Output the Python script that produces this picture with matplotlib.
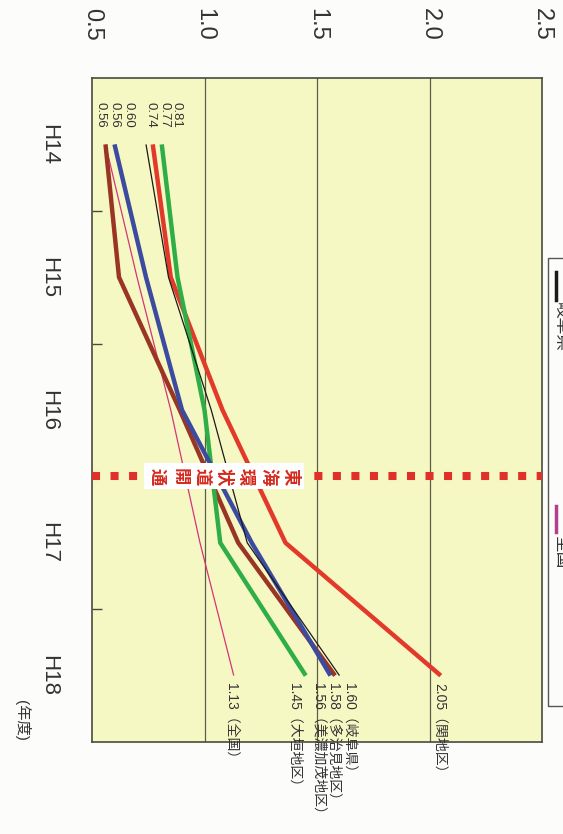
import matplotlib
matplotlib.use("Agg")
import matplotlib.pyplot as plt
from matplotlib.patches import Rectangle
from matplotlib.lines import Line2D

plt.rcParams['font.family'] = ['Liberation Sans', 'Noto Sans CJK JP', 'DejaVu Sans']

# ---- data ----
years = [14, 15, 16, 17, 18]
year_labels = ["H14", "H15", "H16", "H17", "H18"]
value_ticks = [0.5, 1.0, 1.5, 2.0, 2.5]
value_tick_labels = ["0.5", "1.0", "1.5", "2.0", "2.5"]

series_names = ["関地区", "岐阜県", "多治見地区", "美濃加茂地区", "大垣地区", "全国"]
seki = [0.77, 0.85, 1.08, 1.36, 2.05]
gifu = [0.74, 0.84, 1.03, 1.19, 1.60]
tajimi = [0.56, 0.62, 0.89, 1.15, 1.58]
minokamo = [0.60, 0.74, 0.90, 1.21, 1.56]
ogaki = [0.81, 0.88, 1.00, 1.07, 1.45]
zenkoku = [0.56, 0.70, 0.85, 0.98, 1.13]
open_year = 16.5
open_label = "東海環状道開通"
unit_label = "(年度)"
legend_names = ["岐阜県", "全国"]

series = [seki, gifu, tajimi, minokamo, ogaki, zenkoku]
colors = ["#e2392a", "#1a1a1a", "#9a3524", "#3c4aa0", "#2fae48", "#d8337a"]
widths = [3.2, 0.9, 3.2, 3.2, 3.2, 0.9]
zorders = [4, 6, 3, 5, 4, 2]
# label offsets in pixels (start label, end label)
start_dx = [12, 5, -5, 14, 15, 9]
end_dx = [-1, 10, -2, -12, -11, -2]

W, H = 563, 834
fig = plt.figure(figsize=(W / 100, H / 100), dpi=100)
fig.patch.set_facecolor("#fcfcfa")

ax_l, ax_r, ax_t, ax_b = 92, 542, 78, 742
ax = fig.add_axes([ax_l / W, 1 - ax_b / H, (ax_r - ax_l) / W, (ax_b - ax_t) / H])
ax.set_facecolor("#f6f8c4")
ax.set_xlim(0.5, 2.5)
ax.set_ylim(18.5, 13.5)

for s in ax.spines.values():
    s.set_color("#4a4a3e")
    s.set_linewidth(1.2)

for v in value_ticks[1:-1]:
    ax.axvline(v, color="#5d5d48", lw=0.9, zorder=1)

ax.set_xticks(value_ticks)
ax.set_xticklabels(value_tick_labels, rotation=-90, fontsize=17, color="#333333")
ax.tick_params(axis="x", top=True, bottom=False, labeltop=True, labelbottom=False,
               length=0, pad=27)

ax.set_yticks(years)
ax.set_yticklabels(year_labels, rotation=-90, fontsize=16, color="#333333", va="center")
ax.tick_params(axis="y", which="major", length=0, pad=24)
ax.set_yticks([14.5, 15.5, 17.5], minor=True)
ax.tick_params(axis="y", which="minor", direction="in", length=7, color="#4a4a3e", width=1)

# opening line
ax.axhline(open_year, color="#e0302a", lw=5.8, linestyle=(0, (1.0, 1.3)),
           dash_capstyle="butt", zorder=7)
ax.text(1.085, open_year, "\n".join(open_label), rotation=-90, fontsize=12.5,
        fontweight="bold", color="#d42a1e", ha="center", va="center",
        linespacing=1.3, zorder=9, family=["Noto Sans CJK JP"],
        bbox=dict(boxstyle="square,pad=0.25", fc="white", ec="none"))

for name, vals, c, w, z, sdx, edx in zip(series_names, series, colors, widths,
                                         zorders, start_dx, end_dx):
    ax.plot(vals, years, color=c, lw=w, zorder=z, solid_capstyle="butt")
    ax.annotate(f"{vals[0]:.2f}", (vals[0], years[0]), xytext=(sdx, 17),
                textcoords="offset pixels", rotation=-90, fontsize=9.5,
                ha="center", va="bottom", color="#333333", annotation_clip=False)
    ax.annotate(f"{vals[-1]:.2f}（{name}）", (vals[-1], years[-1]), xytext=(edx, -7),
                textcoords="offset pixels", rotation=-90, fontsize=10,
                ha="center", va="top", color="#333333", annotation_clip=False)

fig.text(22 / W, 1 - 720 / H, unit_label, rotation=-90, fontsize=11,
         ha="center", va="center", color="#333333")

# partial legend box on the right edge
fig.patches.append(Rectangle((548 / W, 1 - 706 / H), 30 / W, (706 - 258) / H,
                             transform=fig.transFigure, fill=False, ec="#555555", lw=1))
fig.lines.append(Line2D([556 / W, 556 / W], [1 - 272 / H, 1 - 300 / H],
                        transform=fig.transFigure, color="#1a1a1a", lw=2.5))
fig.text(553 / W, 1 - 302 / H, legend_names[0], rotation=-90, fontsize=12,
         ha="left", va="top", color="#333333")
fig.lines.append(Line2D([556 / W, 556 / W], [1 - 506 / H, 1 - 532 / H],
                        transform=fig.transFigure, color="#b04090", lw=2.5))
fig.text(553 / W, 1 - 535 / H, legend_names[1], rotation=-90, fontsize=12,
         ha="left", va="top", color="#333333")

fig.savefig("out.png", dpi=100, facecolor=fig.get_facecolor())
